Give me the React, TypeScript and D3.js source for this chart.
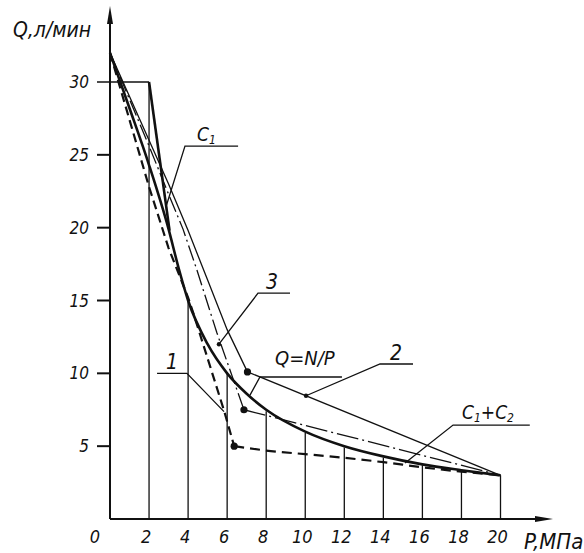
import React from 'react';
import * as d3 from 'd3';

// axis ticks
const pTicks = [0, 2, 4, 6, 8, 10, 12, 14, 16, 18, 20];
const qTicks = [5, 10, 15, 20, 25, 30];

// tops of the vertical ordinates at P = 2..20
const ordP = [2, 4, 6, 8, 10, 12, 14, 16, 18, 20];
const ordQ = [30, 15, 10, 7.4, 5.9, 4.9, 4.2, 3.7, 3.3, 3.0];

// Q = N/P (thick)
const curveNP = [
  [0, 32], [1, 28.2], [2, 24.3], [3, 19.9], [3.5, 17.3], [4, 15], [5, 12], [6, 10], [7, 8.6],
  [8, 7.5], [10, 6], [12, 5], [14, 4.3], [16, 3.75], [18, 3.35], [20, 3]
];
// c1 spring line
const curveC1 = [[2, 30], [3.05, 19.8]];
// curve 1 (dashed)
const curve1a = [[0, 32], [1, 27.4], [2, 22.8], [3, 18.6], [4, 15.2], [4.3, 14], [5.85, 7.4], [6.36, 5]];
const curve1b = [[6.36, 5], [8, 4.7], [10, 4.45], [12, 4.2], [14, 3.9], [16, 3.55], [18, 3.25], [20, 3]];
// curve 2 (thin)
const curve2a = [[0, 32], [1, 29], [2, 26], [3, 23], [4, 19.8], [5, 16.4], [6, 13], [7.04, 10.1]];
const curve2b = [[7.04, 10.1], [20, 3]];
// curve 3 (dash-dot)
const curve3a = [[0, 32], [1, 28.8], [2, 25.6], [3, 22.3], [3.74, 19.9], [4.45, 17.1], [5.47, 12.8], [6.86, 7.5]];
const curve3b = [[6.86, 7.5], [20, 3]];
// knee points
const knots = [[6.36, 5], [6.86, 7.5], [7.04, 10.1]];

const W = 584, H = 553;
const font = "'Liberation Sans Narrow','DejaVu Sans Condensed','Liberation Sans',sans-serif";

const x = d3.scaleLinear().domain([0, 20]).range([110, 500.5]);
const y = d3.scaleLinear().domain([0, 30]).range([519, 82]);

const line = d3.line<number[]>().x(d => x(d[0])).y(d => y(d[1]));
const smooth = d3.line<number[]>().x(d => x(d[0])).y(d => y(d[1])).curve(d3.curveMonotoneX);

// leader annotations: target point, knee, underline end (P)
const notes = [
  { t: [2.86, 21.4], k: [3.84, 25.6], e: 6.56, dot: false },
  { t: [5.58, 12.0], k: [7.58, 15.5], e: 9.22, dot: true },
  { t: [7.17, 8.5], k: [7.68, 9.75], e: 11.88, dot: false },
  { t: [10.04, 8.46], k: [13.83, 10.64], e: 15.52, dot: true },
  { t: [5.84, 7.37], k: [3.94, 10.0], e: 2.41, dot: false },
  { t: [15.11, 3.84], k: [17.57, 6.45], e: 21.5, dot: false }
];

const App = () => {
  const ink = '#111';
  const txt = { fontFamily: font, fontStyle: 'italic' as const, fill: ink };
  return (
    <svg width={W} height={H} style={{ position: 'absolute', left: 0, top: 0, background: '#fff' }}>
      {/* ordinates */}
      {ordP.map((p, i) => (
        <line key={p} x1={x(p)} x2={x(p)} y1={y(0)} y2={y(ordQ[i])} stroke={ink} strokeWidth={1.3} />
      ))}
      {/* y ticks */}
      {qTicks.map(q => (
        <g key={q}>
          <line x1={97} x2={q === 30 ? x(2) : x(0)} y1={y(q)} y2={y(q)} stroke={ink} strokeWidth={q === 30 ? 1.6 : 2} />
          <text x={89} y={y(q) + 6} textAnchor="end" fontSize={17} {...txt}>{q}</text>
        </g>
      ))}
      {/* x labels */}
      {pTicks.map(p => (
        <text key={p} x={p === 0 ? x(0) - 15 : x(p) - 3} y={543} textAnchor="middle" fontSize={18} {...txt}>{p}</text>
      ))}

      {/* curves */}
      <path d={line(curve3a) || ''} fill="none" stroke={ink} strokeWidth={1.3} strokeDasharray="16,4,2,4" />
      <path d={line(curve3b) || ''} fill="none" stroke={ink} strokeWidth={1.3} strokeDasharray="22,4,2,4" />
      <path d={line(curve2a) || ''} fill="none" stroke={ink} strokeWidth={1.3} />
      <path d={line(curve2b) || ''} fill="none" stroke={ink} strokeWidth={1.3} />
      <path d={line(curve1a) || ''} fill="none" stroke={ink} strokeWidth={2.2} strokeDasharray="9,5" />
      <path d={smooth(curve1b) || ''} fill="none" stroke={ink} strokeWidth={2.2} strokeDasharray="10,6" />
      <path d={smooth(curveNP) || ''} fill="none" stroke={ink} strokeWidth={2.6} />
      <path d={line(curveC1) || ''} fill="none" stroke={ink} strokeWidth={2.6} />
      {knots.map((d, i) => (
        <circle key={i} cx={x(d[0])} cy={y(d[1])} r={3.6} fill={ink} />
      ))}

      {/* leaders */}
      {notes.map((n, i) => (
        <g key={i}>
          <polyline points={`${x(n.t[0])},${y(n.t[1])} ${x(n.k[0])},${y(n.k[1])} ${x(n.e)},${y(n.k[1])}`}
            fill="none" stroke={ink} strokeWidth={1.3} />
          {n.dot && <circle cx={x(n.t[0])} cy={y(n.t[1])} r={2.2} fill={ink} />}
        </g>
      ))}
      <text x={197} y={y(25.6) - 5} fontSize={19} {...txt}>C<tspan fontSize={12} dy={3}>1</tspan></text>
      <text x={272} y={y(15.5) - 4} textAnchor="middle" fontSize={21} {...txt}>3</text>
      <text x={275} y={y(9.75) - 12} fontSize={20} {...txt}>Q=N/P</text>
      <text x={396} y={y(10.64) - 4} textAnchor="middle" fontSize={21} {...txt}>2</text>
      <text x={172} y={y(10.0) - 4} textAnchor="middle" fontSize={21} {...txt}>1</text>
      <text x={462} y={y(6.45) - 6} fontSize={19} {...txt}>C<tspan fontSize={12} dy={3}>1</tspan><tspan dy={-3}>+C</tspan><tspan fontSize={12} dy={3}>2</tspan></text>

      {/* axes */}
      <line x1={x(0)} x2={x(0)} y1={y(0)} y2={14} stroke={ink} strokeWidth={2} />
      <polygon points={`${x(0)},6 ${x(0) - 3},24 ${x(0) + 3},24`} fill={ink} />
      <line x1={x(0)} x2={545} y1={y(0)} y2={y(0)} stroke={ink} strokeWidth={2} />
      <polygon points={`553,${y(0)} 535,${y(0) - 3} 535,${y(0) + 3}`} fill={ink} />
      <text x={13} y={37} fontSize={21} {...txt}>Q,л/мин</text>
      <text x={524} y={549} fontSize={22} {...txt}>P,МПа</text>
    </svg>
  );
};

export default App;
